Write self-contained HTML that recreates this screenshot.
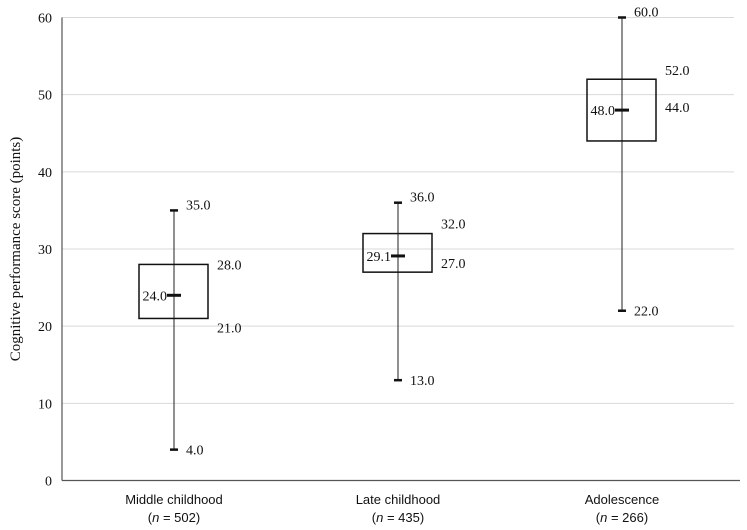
<!DOCTYPE html>
<html><head><meta charset="utf-8"><style>
body{margin:0;background:#fff}
svg{display:block}
.num{font-family:"Liberation Serif",serif;font-size:14px;fill:#111}
.cat{font-family:"Liberation Sans",sans-serif;font-size:13px;fill:#111}
</style></head><body>
<svg id="chart" width="747" height="530"></svg>
<script>
const categories=["Middle childhood","Late childhood","Adolescence"];
const nValues=[502,435,266];
const minValues=[4.0,13.0,22.0];
const q1Values=[21.0,27.0,44.0];
const medianValues=[24.0,29.1,48.0];
const q3Values=[28.0,32.0,52.0];
const maxValues=[35.0,36.0,60.0];
const yTicks=[0,10,20,30,40,50,60];

const NS="http://www.w3.org/2000/svg";
const svg=document.getElementById('chart');
const L=62,R=734,T=17.5,B=480.5;
const y=v=>B-(v/60)*(B-T);
const x=i=>L+(R-L)/categories.length*(i+0.5);
function el(t,a,p){const e=document.createElementNS(NS,t);for(const k in a)e.setAttribute(k,a[k]);(p||svg).appendChild(e);return e;}
function fmt(v){return v.toFixed(1);}

yTicks.forEach(t=>{
  if(t>0){const g=el('line',{x1:L,x2:R,y1:y(t),y2:y(t),stroke:'#d9d9d9','stroke-width':1});
  
  }
  const tx=el('text',{x:L-10,y:y(t)+5,'text-anchor':'end',class:'num'});
  tx.textContent=t;
  
  
});
const ya=el('line',{x1:L,x2:L,y1:T,y2:B,stroke:'#555','stroke-width':1.2});


const xa=el('line',{x1:L,x2:R+6,y1:B,y2:B,stroke:'#555','stroke-width':1.2});


const yt=el('text',{x:0,y:0,transform:'translate(20,249) rotate(-90)','text-anchor':'middle',class:'num',style:'font-size:15px'});
yt.textContent='Cognitive performance score (points)';



const q3dy=[5,-5,-4];const q1dy=[14,-4,-29];
categories.forEach((c,i)=>{
  const cx=x(i),bw=69;
  const g=el('g',{});
  
  
  el('line',{x1:cx,x2:cx,y1:y(maxValues[i]),y2:y(minValues[i]),stroke:'#222','stroke-width':1},g);
  el('rect',{x:cx-35,y:y(q3Values[i]),width:bw,height:y(q1Values[i])-y(q3Values[i]),fill:'none',stroke:'#111','stroke-width':1.5},g);
  el('line',{x1:cx-4,x2:cx+4,y1:y(maxValues[i]),y2:y(maxValues[i]),stroke:'#111','stroke-width':2.5},g);
  el('line',{x1:cx-4,x2:cx+4,y1:y(minValues[i]),y2:y(minValues[i]),stroke:'#111','stroke-width':2.5},g);
  el('line',{x1:cx-7,x2:cx+7,y1:y(medianValues[i]),y2:y(medianValues[i]),stroke:'#111','stroke-width':3},g);
  const lab=(tx,xx,yy,anchor,name)=>{const t=el('text',{x:xx,y:yy,'text-anchor':anchor,class:'num'},g);t.textContent=tx;
    
    };
  lab(fmt(maxValues[i]),cx+12,y(maxValues[i])-1,'start','max-label-'+i);
  lab(fmt(minValues[i]),cx+12,y(minValues[i])+5,'start','min-label-'+i);
  lab(fmt(q3Values[i]),cx+43,y(q3Values[i])+q3dy[i],'start','q3-label-'+i);
  lab(fmt(q1Values[i]),cx+43,y(q1Values[i])+q1dy[i],'start','q1-label-'+i);
  lab(fmt(medianValues[i]),cx-7,y(medianValues[i])+5,'end','median-label-'+i);
  const c1=el('text',{x:cx,y:504,'text-anchor':'middle',class:'cat'});c1.textContent=c;
  
  
  const c2=el('text',{x:cx,y:522,'text-anchor':'middle',class:'cat'});
  c2.innerHTML='(<tspan font-style="italic">n</tspan> = '+nValues[i]+')';
  
  
});
</script>
</body></html>
